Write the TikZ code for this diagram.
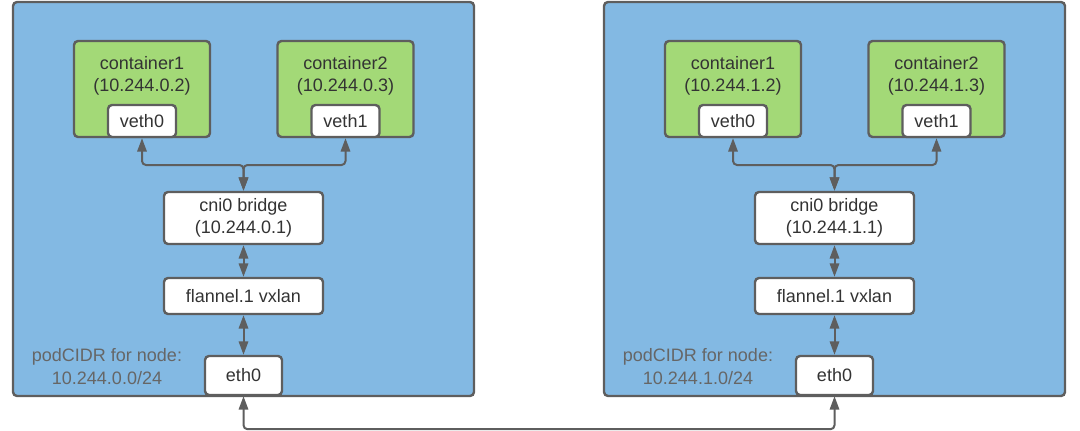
\documentclass[tikz,border=0pt]{standalone}
\usepackage{fontspec}
\setmainfont{Liberation Sans}
\usetikzlibrary{arrows.meta,positioning}
\definecolor{hostblue}{HTML}{83B9E3}
\definecolor{podgreen}{HTML}{A3D977}
\definecolor{edgegray}{HTML}{5E5E5E}
\definecolor{textgray}{HTML}{333333}
\definecolor{notegray}{HTML}{666666}

\begin{document}
\begin{tikzpicture}[
    x=0.75pt, y=-0.75pt,
    every node/.style={font=\fontsize{13.5}{17}\selectfont, text=textgray, align=center, inner sep=0pt},
    host/.style={draw=edgegray, fill=hostblue, line width=1.8pt, rounded corners=3pt, minimum width=345.75pt, minimum height=295.5pt},
    pod/.style={draw=edgegray, fill=podgreen, line width=1.8pt, rounded corners=3pt, minimum width=102pt, minimum height=72pt},
    port/.style={draw=edgegray, fill=white, line width=1.8pt, rounded corners=3pt, minimum width=51pt, minimum height=24pt},
    dev/.style={draw=edgegray, fill=white, line width=1.8pt, rounded corners=3pt, minimum width=119.25pt},
    note/.style={text=notegray},
    link/.style={draw=edgegray, line width=1.5pt, rounded corners=3pt, {Triangle[width=7pt,length=10pt]}-{Triangle[width=7pt,length=10pt]}}
]
\useasboundingbox (0,0) rectangle (1080,431);

% one host per node, the second one shifted to the right
\foreach \h/\dx/\n in {a/0/0, b/591/1}{
\begin{scope}[shift={(\dx,0)}]
    \node[host] (host\h) at (243.5,199) {};
    % containers with their veth ends
    \node[pod] (ca\h) at (142,89) {};
    \node at (142,76) {container1\\(10.244.\n.2)};
    \node[port, anchor=south] (v0\h) at (ca\h.south) {veth0};
    \node[pod] (cb\h) at (345.5,89) {};
    \node at (345.5,76) {container2\\(10.244.\n.3)};
    \node[port, anchor=south] (v1\h) at (cb\h.south) {veth1};
    % bridge, vxlan and nic
    \node[dev, minimum height=39pt] (br\h) at (243.5,218) {cni0 bridge\\(10.244.\n.1)};
    \node[dev, minimum height=27pt] (fl\h) at (243.5,296) {flannel.1 vxlan};
    \node[dev, minimum width=57.75pt, minimum height=29.25pt] (eth\h) at (243.5,375.5) {eth0};
    \node[note] at (107,366.5) {podCIDR for node:\\10.244.\n.0/24};
    % links inside the host
    \coordinate (j\h) at (243.5,165);
    \draw[link] (v0\h.south) |- (j\h) -- (br\h.north);
    \draw[link] (v1\h.south) |- (j\h) -- (br\h.north);
    \draw[link] (br\h.south) -- (fl\h.north);
    \draw[link] (fl\h.south) -- (eth\h.north);
\end{scope}
}

% wire between the two hosts
\draw[link] (etha.south) -- ++(0,33) -| (ethb.south);
\end{tikzpicture}
\end{document}
